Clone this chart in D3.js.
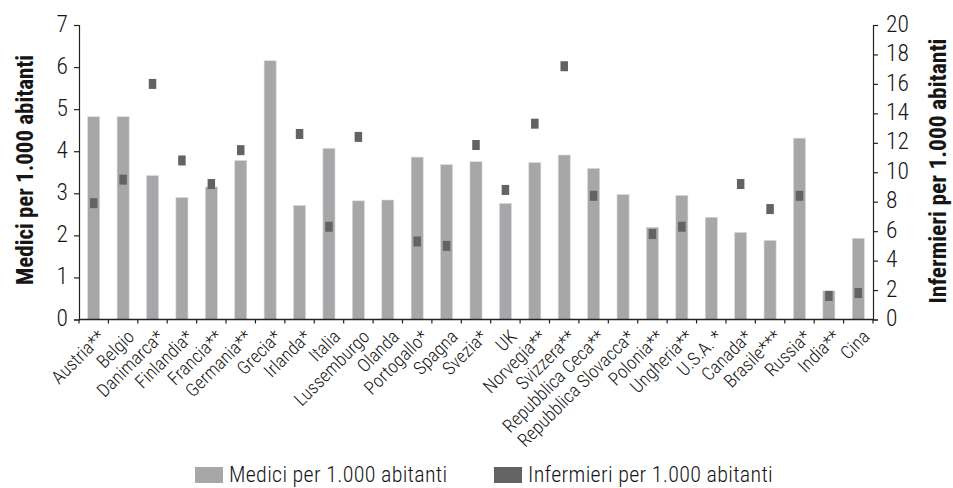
<!DOCTYPE html>
<html>
<head>
<meta charset="utf-8">
<script src="https://cdn.jsdelivr.net/npm/d3@7"></script>
<style>
  html, body { margin: 0; padding: 0; background: #fff; }
  svg { display: block; }
  text { font-family: "Roboto Condensed", "Liberation Sans", Arial, sans-serif; font-weight: 300; fill: #161616; }
</style>
</head>
<body>
<svg id="chart" width="953" height="488"></svg>
<script>
// Paesi e valori per 1.000 abitanti
const paesi = ["Austria**", "Belgio", "Danimarca*", "Finlandia*", "Francia**", "Germania**", "Grecia*",
  "Irlanda*", "Italia", "Lussemburgo", "Olanda", "Portogallo*", "Spagna", "Svezia*", "UK",
  "Norvegia**", "Svizzera**", "Repubblica Ceca**", "Repubblica Slovacca*", "Polonia**",
  "Ungheria**", "U.S.A. *", "Canada*", "Brasile***", "Russia*", "India**", "Cina"];
const medici = [4.82, 4.82, 3.42, 2.90, 3.15, 3.78, 6.15, 2.71, 4.07, 2.82, 2.84, 3.86, 3.68, 3.75, 2.76,
  3.73, 3.91, 3.59, 2.97, 2.19, 2.95, 2.43, 2.07, 1.88, 4.31, 0.68, 1.93];
const infermieri = [7.9, 9.5, 16.0, 10.8, 9.2, 11.5, null, 12.6, 6.3, 12.4, null, 5.3, 5.0, 11.85, 8.8,
  13.3, 17.2, 8.4, null, 5.8, 6.3, null, 9.2, 7.5, 8.4, 1.6, 1.8];
const mediciTicks = [0, 1, 2, 3, 4, 5, 6, 7];
const infermieriTicks = [0, 2, 4, 6, 8, 10, 12, 14, 16, 18, 20];
const titoli = ["Medici per 1.000 abitanti", "Infermieri per 1.000 abitanti"];
const legenda = ["Medici per 1.000 abitanti", "Infermieri per 1.000 abitanti"];

const colMedici = "#a7a7aa";
const colInfermieri = "#636363";

const svg = d3.select("#chart");
const area = { left: 79, right: 873, top: 25, bottom: 319.5 };

const x = d3.scaleBand().domain(paesi).range([area.left, area.right]).padding(0);
const yL = d3.scaleLinear().domain([0, 7]).range([area.bottom, area.top]);
const yR = d3.scaleLinear().domain([0, 20]).range([area.bottom, area.top]);

// Barre: medici
const barW = x.bandwidth() * 0.41;
svg.append("g").selectAll("rect")
  .data(paesi.map((p, i) => ({ p, v: medici[i] })))
  .join("rect")
  .attr("x", d => x(d.p) + x.bandwidth() / 2 - barW / 2)
  .attr("width", barW)
  .attr("y", d => yL(d.v))
  .attr("height", d => yL(0) - yL(d.v))
  .attr("fill", colMedici)
  .attr("stroke", "#dadadc")
  .attr("stroke-width", 0.6);

// Marcatori: infermieri
const mW = 7.5, mH = 10;
svg.append("g").selectAll("rect")
  .data(paesi.map((p, i) => ({ p, v: infermieri[i] })).filter(d => d.v != null))
  .join("rect")
  .attr("x", d => x(d.p) + x.bandwidth() / 2 - mW / 2)
  .attr("y", d => yR(d.v) - mH / 2)
  .attr("width", mW)
  .attr("height", mH)
  .attr("fill", colInfermieri);

// Assi verticali
const axL = svg.append("g").attr("transform", `translate(${area.left},0)`)
  .call(d3.axisLeft(yL).tickValues(mediciTicks).tickSize(5).tickPadding(6).tickFormat(d3.format("d")));
const axR = svg.append("g").attr("transform", `translate(${area.right},0)`)
  .call(d3.axisRight(yR).tickValues(infermieriTicks).tickSize(5).tickPadding(8).tickFormat(d3.format("d")));
[axL, axR].forEach(a => {
  a.select(".domain").attr("stroke", "#222").attr("stroke-width", 1.2);
  a.selectAll(".tick line").attr("stroke", "#222").attr("stroke-width", 1.2);
  a.selectAll(".tick text")
    .attr("dy", "0.26em")
    .attr("fill", "#161616")
    .style("font-family", '"Roboto Condensed", "Liberation Sans", sans-serif')
    .style("font-weight", 300)
    .style("font-size", "23.5px");
});

// Asse orizzontale con tacche fra le categorie
const axB = svg.append("g");
axB.append("line").attr("x1", area.left).attr("x2", area.right).attr("y1", area.bottom).attr("y2", area.bottom)
  .attr("stroke", "#222").attr("stroke-width", 1.4);
axB.selectAll("line.tick")
  .data(paesi.map(p => x(p)).concat([area.right]))
  .join("line").attr("class", "tick")
  .attr("x1", d => d).attr("x2", d => d)
  .attr("y1", area.bottom).attr("y2", area.bottom + 4)
  .attr("stroke", "#222").attr("stroke-width", 1.2);

// Etichette dei paesi, ruotate
axB.selectAll("text")
  .data(paesi)
  .join("text")
  .attr("transform", d => `translate(${x(d) + x.bandwidth() / 2 + 3},${area.bottom + 9}) rotate(-45)`)
  .attr("text-anchor", "end")
  .attr("dy", "0.72em")
  .style("font-size", "18.5px")
  .text(d => d);

// Titoli degli assi
const titPos = [[33, 170, 230], [946, 171, 265]];
titoli.forEach((t, i) => {
  svg.append("text")
    .attr("transform", `translate(${titPos[i][0]},${titPos[i][1]}) rotate(-90)`)
    .attr("text-anchor", "middle")
    .attr("textLength", titPos[i][2])
    .attr("lengthAdjust", "spacingAndGlyphs")
    .style("font-size", "24px")
    .style("font-weight", "bold")
    .attr("fill", "#111")
    .text(t);
});

// Legenda
const leg = svg.append("g");
const legPos = [195, 494];
const legCol = [colMedici, colInfermieri];
legenda.forEach((t, i) => {
  leg.append("rect").attr("x", legPos[i]).attr("y", 467).attr("width", 28).attr("height", 16).attr("fill", legCol[i]);
  leg.append("text").attr("x", legPos[i] + 34).attr("y", 482)
    .style("font-size", "22px").style("letter-spacing", "0.3px").text(t);
});
</script>
</body>
</html>
